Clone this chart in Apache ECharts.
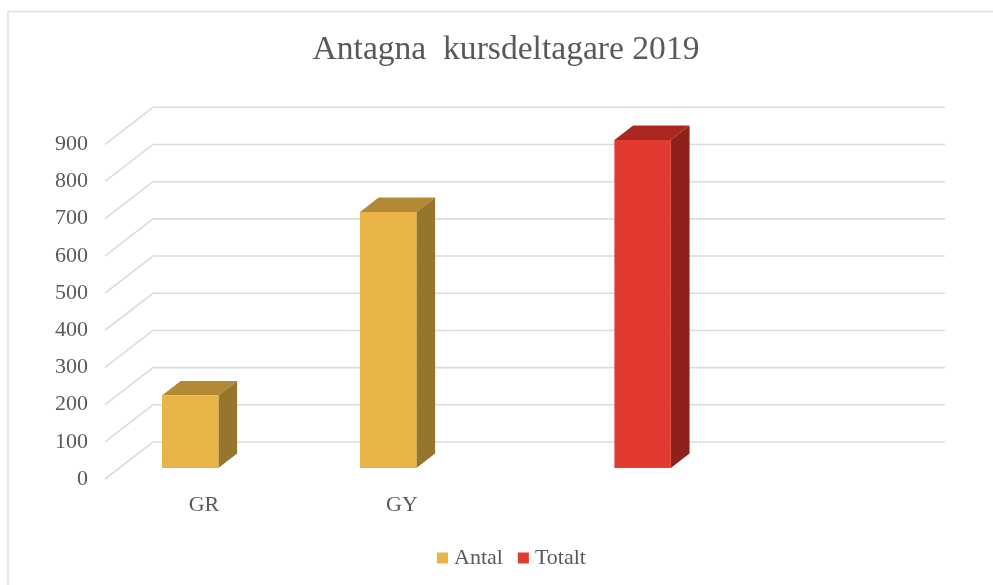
<!DOCTYPE html>
<html>
<head>
<meta charset="utf-8">
<style>html,body{margin:0;padding:0;background:#fff}#c{width:993px;height:585px}</style>
<script src="https://cdn.jsdelivr.net/npm/echarts@6/dist/echarts.min.js"></script>
</head>
<body>
<div id="c"></div>
<script>
const categories = ['GR', 'GY', '', ''];
const antal = [195, 688, null, null];
const totalt = [null, null, 882, null];
const yTicks = [0, 100, 200, 300, 400, 500, 600, 700, 800, 900];

const FONT = '"Liberation Serif", serif';
const TEXT = '#595959';
const GRIDLINE = '#dcdcdc';
const DEPTH_X = 48, DEPTH_Y = 37;       // floor depth of the 3D box
const BAR_PLANE = 0.3, BAR_DEPTH = 0.39; // bar position and thickness within that depth
const BAR_BAND = 0.285;                 // bar width as share of a category band

function gridItem(params, api) {
  const cs = params.coordSys;
  const y = api.coord([0, api.value(1)])[1];
  return {
    type: 'polyline',
    shape: { points: [[cs.x, y], [cs.x + DEPTH_X, y - DEPTH_Y], [cs.x + cs.width + DEPTH_X, y - DEPTH_Y]] },
    style: { stroke: GRIDLINE, lineWidth: 1.6, fill: null },
    silent: true
  };
}

function barRenderer(side, colors) {
  return function (params, api) {
    const v = api.value(1);
    if (v == null || isNaN(v)) return null;
    const cat = api.value(0);
    const base = api.coord([cat, 0]);
    const top = api.coord([cat, v]);
    const w = api.size([1, 0])[0] * BAR_BAND;
    const px = base[0] + DEPTH_X * BAR_PLANE, py = DEPTH_Y * BAR_PLANE;
    const x0 = side < 0 ? px - w : px, x1 = x0 + w;
    const yb = base[1] - py, yt = top[1] - py;
    const dx = DEPTH_X * BAR_DEPTH, dy = DEPTH_Y * BAR_DEPTH;
    return {
      type: 'group',
      children: [
        { type: 'polygon', shape: { points: [[x0, yt], [x1, yt], [x1 + dx, yt - dy], [x0 + dx, yt - dy]] }, style: { fill: colors.top } },
        { type: 'polygon', shape: { points: [[x1, yt], [x1 + dx, yt - dy], [x1 + dx, yb - dy], [x1, yb]] }, style: { fill: colors.side } },
        { type: 'rect', shape: { x: x0, y: yt, width: w, height: yb - yt }, style: { fill: colors.front } }
      ]
    };
  };
}

const chart = echarts.init(document.getElementById('c'), null, { renderer: 'canvas' });
chart.setOption({
  animation: false,
  backgroundColor: '#fff',
  title: {
    text: 'Antagna  kursdeltagare 2019',
    left: 501, top: 28, textAlign: 'center',
    textStyle: { fontFamily: FONT, fontSize: 33.6, fontWeight: 'normal', color: TEXT }
  },
  legend: {
    data: ['Antal', 'Totalt'],
    left: 432, top: 542,
    icon: 'rect', itemWidth: 11, itemHeight: 11, itemGap: 15,
    textStyle: { fontFamily: FONT, fontSize: 22, color: TEXT, padding: [0, 0, 0, 1] }
  },
  grid: { left: 105, right: 96, top: 144.3, bottom: 106 },
  xAxis: {
    type: 'category', data: categories,
    axisLine: { show: false }, axisTick: { show: false },
    axisLabel: { fontFamily: FONT, fontSize: 22, color: TEXT, margin: 15 }
  },
  yAxis: {
    type: 'value', min: 0, max: 900, interval: 100,
    axisLine: { show: false }, axisTick: { show: false }, splitLine: { show: false },
    axisLabel: { fontFamily: FONT, fontSize: 22, color: TEXT, margin: 17, verticalAlign: 'middle', lineHeight: 20 }
  },
  graphic: [
    { type: 'polyline', shape: { points: [[8, 585], [8, 11.5], [993, 11.5]] }, style: { stroke: '#dedede', lineWidth: 1.5, fill: null }, silent: true }
  ],
  series: [
    { name: 'Gridlines', type: 'custom', renderItem: gridItem, z: 1, silent: true,
      encode: { x: 0, y: 1 }, data: yTicks.map(t => [0, t]) },
    { name: 'Antal', type: 'custom', z: 2, silent: true,
      itemStyle: { color: '#E8B447' },
      renderItem: barRenderer(-1, { front: '#E8B447', side: '#96752D', top: '#B28A36' }),
      encode: { x: 0, y: 1 }, data: antal.map((v, i) => [i, v]) },
    { name: 'Totalt', type: 'custom', z: 2, silent: true,
      itemStyle: { color: '#E03A31' },
      renderItem: barRenderer(1, { front: '#E03A31', side: '#8E211C', top: '#A92820' }),
      encode: { x: 0, y: 1 }, data: totalt.map((v, i) => [i, v]) }
  ]
});
</script>
</body>
</html>
